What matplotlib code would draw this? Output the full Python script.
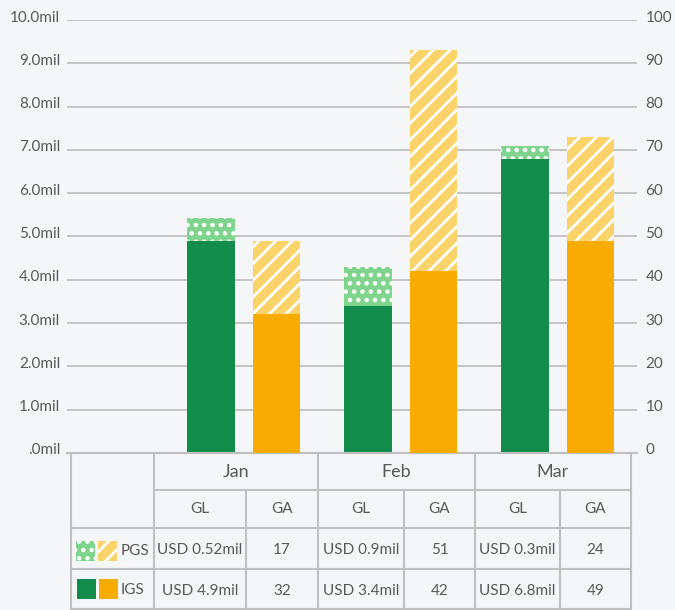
import matplotlib
matplotlib.use("Agg")
import matplotlib.pyplot as plt
import numpy as np
from matplotlib.patches import Rectangle
from matplotlib.transforms import ScaledTranslation

# Datos del gráfico
meses = ["Jan", "Feb", "Mar"]
gl_igs = [4.9, 3.4, 6.8]      # USD mil (eje izquierdo)
gl_pgs = [0.52, 0.9, 0.3]
ga_igs = [32, 42, 49]         # eje derecho
ga_pgs = [17, 51, 24]
ticks_izq = np.arange(0, 11, 1)
ticks_der = np.arange(0, 101, 10)

# Estilo
plt.rcParams["font.family"] = ["Lato", "DejaVu Sans"]
plt.rcParams["hatch.linewidth"] = 2.0
fondo = "#f5f6f7"
texto = "#595959"
rejilla = "#c0c0c0"
verde = "#118c4b"
verde_claro = "#7fd58e"
naranja = "#f8ab00"
naranja_claro = "#fbd36b"
puntos = ".."
rayas = "//"

W, H = 675, 610
fig = plt.figure(figsize=(W / 100, H / 100), dpi=100, facecolor=fondo)

ax = fig.add_axes([67 / W, 1 - 453 / H, 570 / W, 433 / H])
ax.set_facecolor(fondo)
ax2 = ax.twinx()

x = np.arange(len(meses))
ancho = 0.30
ax.bar(x - 0.21, gl_igs, ancho, color=verde, linewidth=0, zorder=3)
ax.bar(x - 0.21, gl_pgs, ancho, bottom=gl_igs, color=verde_claro,
       edgecolor="white", linewidth=0, hatch=puntos, zorder=3)
ax2.bar(x + 0.207, ga_igs, ancho, color=naranja, linewidth=0, zorder=3)
ax2.bar(x + 0.207, ga_pgs, ancho, bottom=ga_igs, color=naranja_claro,
        edgecolor="white", linewidth=0, hatch=rayas, zorder=3)

ax.set_xlim(-1.127, 2.503)
ax.set_ylim(0, 10)
ax2.set_ylim(0, 100)
ax.set_xticks([])

ax.set_yticks(ticks_izq)
ax.set_yticklabels([f"{v:.1f}mil" if v > 0 else ".0mil" for v in ticks_izq])
ax2.set_yticks(ticks_der)
ax2.set_yticklabels([str(v) for v in ticks_der])

ax.yaxis.grid(True, color=rejilla, linewidth=1.3)
ax.set_axisbelow(True)
for a in (ax, ax2):
    for s in ["top", "left", "right"]:
        a.spines[s].set_visible(False)
    a.spines["bottom"].set_color(rejilla)
    a.spines["bottom"].set_linewidth(1.5)
ax.tick_params(axis="y", length=0, pad=5, labelsize=11, labelcolor=texto)
ax2.tick_params(axis="y", length=0, pad=6, labelsize=11, labelcolor=texto)

# etiquetas un poco por encima de las líneas
subir = ScaledTranslation(0, 4 / 100, fig.dpi_scale_trans)
for lbl in ax.get_yticklabels() + ax2.get_yticklabels():
    lbl.set_transform(lbl.get_transform() + subir)

# Tabla debajo del gráfico (coordenadas en píxeles)
tab = fig.add_axes([0, 0, 1, 1], facecolor="none")
tab.set_xlim(0, W)
tab.set_ylim(H, 0)
tab.axis("off")

lw = 1.5
col_mes = [154, 318, 475, 631]
col_div = [246, 404, 560]
for yy, x0 in [(490, 154), (528, 71), (569, 71), (609, 71)]:
    tab.plot([x0, 631], [yy, yy], color=rejilla, lw=lw)
for xx in [71] + col_mes:
    tab.plot([xx, xx], [454, 612], color=rejilla, lw=lw)
for xx in col_div:
    tab.plot([xx, xx], [490, 612], color=rejilla, lw=lw)

fs = 11
for i, mes in enumerate(meses):
    xl, xr = col_mes[i], col_mes[i + 1]
    xm = col_div[i]
    tab.text((xl + xr) / 2, 472, mes, ha="center", va="center", fontsize=13, color=texto)
    tab.text((xl + xm) / 2, 509, "GL", ha="center", va="center", fontsize=fs, color=texto)
    tab.text((xm + xr) / 2, 509, "GA", ha="center", va="center", fontsize=fs, color=texto)
    tab.text((xl + xm) / 2, 550, f"USD {gl_pgs[i]:g}mil", ha="center", va="center", fontsize=fs, color=texto)
    tab.text((xm + xr) / 2, 550, str(ga_pgs[i]), ha="center", va="center", fontsize=fs, color=texto)
    tab.text((xl + xm) / 2, 591, f"USD {gl_igs[i]:g}mil", ha="center", va="center", fontsize=fs, color=texto)
    tab.text((xm + xr) / 2, 591, str(ga_igs[i]), ha="center", va="center", fontsize=fs, color=texto)

# leyenda dentro de la tabla
tab.add_patch(Rectangle((76, 541), 19, 20, facecolor=verde_claro, edgecolor="white", lw=0, hatch=puntos))
tab.add_patch(Rectangle((98, 541), 19, 20, facecolor=naranja_claro, edgecolor="white", lw=0, hatch=rayas))
tab.add_patch(Rectangle((77, 579), 19, 20, facecolor=verde, lw=0))
tab.add_patch(Rectangle((99, 579), 19, 20, facecolor=naranja, lw=0))
tab.text(121, 551, "PGS", ha="left", va="center", fontsize=fs, color=texto)
tab.text(121, 590, "IGS", ha="left", va="center", fontsize=fs, color=texto)

fig.savefig("out.png", dpi=100, facecolor=fondo)
